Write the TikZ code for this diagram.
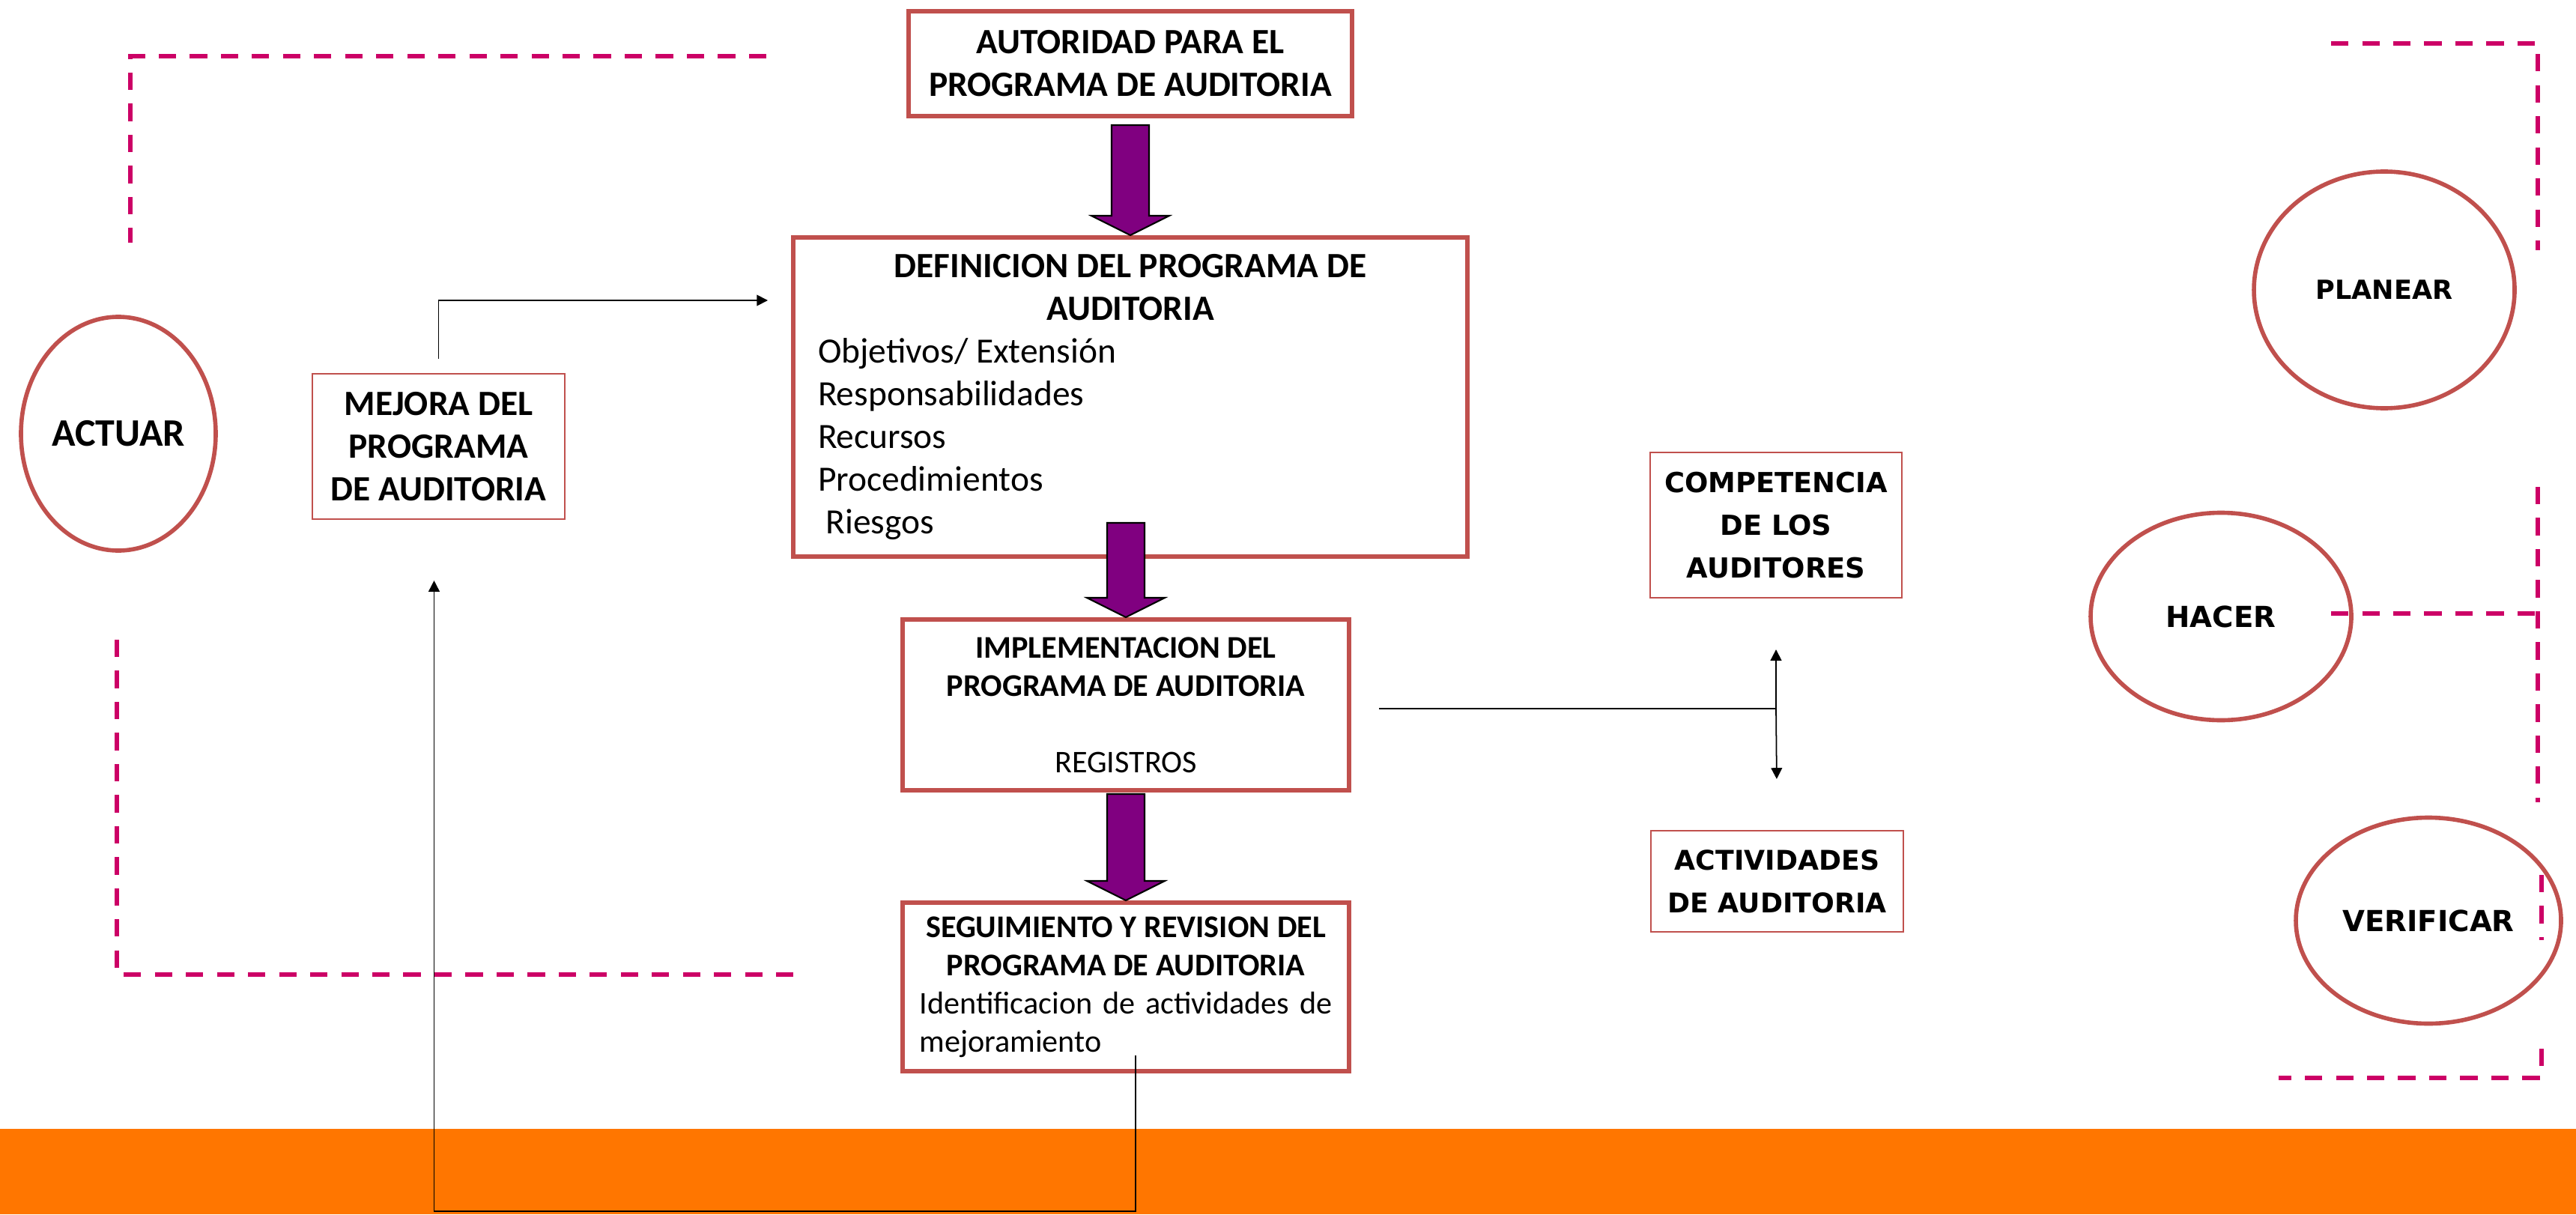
\documentclass[tikz,border=0pt]{standalone}
\usepackage{fontspec}
\setmainfont{Carlito}
\newfontfamily\verdfont{DejaVu Sans}
\usetikzlibrary{shapes.geometric,arrows.meta,calc}
\definecolor{boxred}{HTML}{C0504D}
\definecolor{cyclepink}{HTML}{CC0066}
\definecolor{arrowpurple}{HTML}{800080}
\definecolor{barorange}{HTML}{FF7600}
\tikzset{
  bigbox/.style={draw=boxred, line width=1.7pt, fill=white, align=center, inner sep=0pt},
  smallbox/.style={draw=boxred, line width=0.6pt, fill=white, align=center, inner sep=0pt},
  phase/.style={ellipse, draw=boxred, line width=1.6pt, inner sep=0pt},
  cycleline/.style={cyclepink, line width=1.7pt, dash pattern=on 6.6pt off 5.2pt},
  conn/.style={line width=0.5pt, -{Triangle[length=4.2pt,width=4.2pt]}},
  plain/.style={line width=0.5pt},
  blockarrow/.style={draw=black, line width=0.6pt, fill=arrowpurple},
  calibold/.style={font=\fontsize{13.5}{16.2}\selectfont\bfseries},
  verdbold/.style={font=\verdfont\fontsize{#1}{16.2}\selectfont\bfseries}
}
\newcommand{\purplearrow}[2]{\draw[blockarrow] #1 -- ++(-0.52,0.26) -- ++(0.27,0) -- ++(0,#2) -- ++(0.5,0) -- ++(0,-#2) -- ++(0.27,0) -- cycle;}
\begin{document}
\begin{tikzpicture}
%\draw[step=1cm,gray,very thin] (0,0) grid (34,16);
\useasboundingbox (0,0) rectangle (34.39,16.21);
\fill[barorange] (0,0) rectangle (34.39,1.14);
\draw[cycleline] (10.23,15.46) -- (1.74,15.46) -- (1.74,12.97);
\draw[cycleline] (1.56,7.67) -- (1.56,3.20) -- (10.63,3.20);
\draw[cycleline] (31.12,15.63) -- (33.88,15.63) -- (33.88,12.87);
\draw[cycleline] (33.88,9.71) -- (33.88,5.50);
\draw[cycleline] (31.12,8.02) -- (33.88,8.02);
\draw[cycleline] (33.93,4.53) -- (33.93,3.66);
\draw[cycleline] (33.93,2.21) -- (33.93,1.82) -- (30.42,1.82);
\node[bigbox, calibold, minimum width=5.92cm, minimum height=1.40cm] (auto) at (15.09,15.36) {AUTORIDAD PARA EL\\PROGRAMA DE AUDITORIA};
\node[bigbox, minimum width=9cm, minimum height=4.26cm, text width=8.34cm, align=flush left, font=\fontsize{13.5}{16.2}\selectfont] (defi) at (15.09,10.91) {{\centering\bfseries DEFINICION DEL PROGRAMA DE\\AUDITORIA\par}Objetivos/ Extensión\\Responsabilidades\\Recursos\\Procedimientos\\\hspace*{3pt}Riesgos};
\node[bigbox, minimum width=5.96cm, minimum height=2.28cm, font=\fontsize{12}{14.5}\selectfont\bfseries] (impl) at (15.03,6.80) {IMPLEMENTACION DEL\\PROGRAMA DE AUDITORIA\\[14.5pt]{\mdseries REGISTROS}};
\node[bigbox, minimum width=5.96cm, minimum height=2.25cm, text width=5.51cm, align=justify, font=\fontsize{12}{14.5}\selectfont] (seg) at (15.03,3.035) {{\centering\bfseries SEGUIMIENTO Y REVISION DEL\\PROGRAMA DE AUDITORIA\par}Identificacion de actividades de\linebreak mejoramiento};
\node[smallbox, calibold, minimum width=3.37cm, minimum height=1.94cm] (mejora) at (5.855,10.25) {MEJORA DEL\\PROGRAMA\\DE AUDITORIA};
\node[smallbox, verdbold=10.5, minimum width=3.36cm, minimum height=1.94cm] (compet) at (23.71,9.20) {COMPETENCIA\\DE LOS\\AUDITORES};
\node[smallbox, verdbold=10.3, minimum width=3.37cm, minimum height=1.35cm] (activ) at (23.725,4.445) {ACTIVIDADES\\DE AUDITORIA};
\node[phase, minimum width=2.60cm, minimum height=3.12cm, font=\fontsize{14.8}{17}\selectfont\bfseries] (actuar) at (1.58,10.42) {ACTUAR};
\node[phase, verdbold=10, minimum width=3.48cm, minimum height=3.16cm] (planear) at (31.83,12.34) {PLANEAR};
\node[phase, verdbold=11, minimum width=3.48cm, minimum height=2.77cm] (hacer) at (29.65,7.98) {HACER};
\node[phase, verdbold=11, minimum width=3.54cm, minimum height=2.75cm] (verificar) at (32.42,3.92) {VERIFICAR};
\purplearrow{(defi.north)}{1.21}
\purplearrow{(impl.north)}{1.00}
\purplearrow{(seg.north)}{1.16}
\coordinate (defin) at ([yshift=1.29cm]defi.west);
\draw[conn, shorten <=0.19cm, shorten >=0.31cm] (mejora.north) |- (defin);
\coordinate (segout) at ([xshift=0.13cm,yshift=0.24cm]seg.south);
\draw[conn, shorten >=0.81cm] (segout) -- ++(0,-2.08) -| ([xshift=-0.06cm]mejora.south);
\coordinate (split) at ($(compet.south |- impl.east)+(0,-0.05)$);
\draw[plain, shorten <=0.37cm] ([yshift=-0.05cm]impl.east) -- (split);
\draw[conn, shorten >=0.68cm] (split) -- (compet.south);
\draw[conn, shorten >=0.68cm] (split) -- (activ.north);
\end{tikzpicture}
\end{document}
